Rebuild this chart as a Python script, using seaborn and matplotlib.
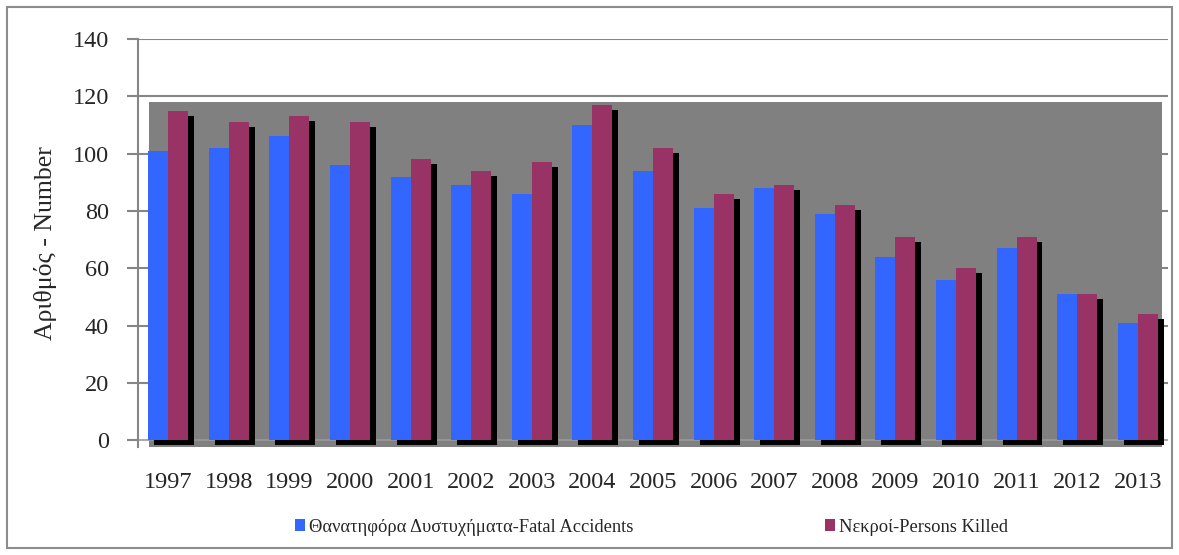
import matplotlib
matplotlib.use("Agg")
import matplotlib.pyplot as plt
import matplotlib.patheffects as pe
from matplotlib.patches import Rectangle, Patch
import seaborn as sns
import pandas as pd
import numpy as np

years = ["1997", "1998", "1999", "2000", "2001", "2002", "2003", "2004", "2005",
         "2006", "2007", "2008", "2009", "2010", "2011", "2012", "2013"]
fatal_accidents = [101, 102, 106, 96, 92, 89, 86, 110, 94, 81, 88, 79, 64, 56, 67, 51, 41]
persons_killed = [115, 111, 113, 111, 98, 94, 97, 117, 102, 86, 89, 82, 71, 60, 71, 51, 44]
series_names = ["Θανατηφόρα Δυστυχήματα-Fatal Accidents", "Νεκροί-Persons Killed"]
colors = ["#3366FF", "#993366"]
y_ticks = [0, 20, 40, 60, 80, 100, 120, 140]

df = pd.DataFrame({
    "year": years * 2,
    "value": fatal_accidents + persons_killed,
    "series": [series_names[0]] * len(years) + [series_names[1]] * len(years),
})

sns.set_style("white")
plt.rcParams["font.family"] = ["Liberation Serif", "DejaVu Serif"]

fig = plt.figure(figsize=(11.79, 5.55), dpi=100)
ax = fig.add_axes([138 / 1179, 1 - 447 / 555, (1168 - 138) / 1179, (447 - 39) / 555])

# outer frame
fig.patches.append(Rectangle((7 / 1179, 7 / 555), (1172 - 7) / 1179, (548 - 7) / 555,
                             transform=fig.transFigure, fill=False,
                             edgecolor="#8c8c8c", linewidth=1.5))

ymin = -2.4
ax.set_ylim(ymin, 140)
ax.set_xlim(-0.5, len(years) - 0.5)

# gridlines (behind the wall)
for t in y_ticks[1:]:
    ax.axhline(t, color="#868686", linewidth=1.5, zorder=0)

# back wall
wall_top = 118
wall = Rectangle((-0.32, ymin), len(years) - 0.5 + 0.32 - 0.1, wall_top - ymin,
                 facecolor="#808080", edgecolor="none", zorder=0.5)
ax.add_patch(wall)

sns.barplot(data=df, x="year", y="value", hue="series", palette=colors,
            width=0.66, gap=0, dodge=True, ax=ax, legend=False, errorbar=None,
            saturation=1, zorder=2)

shadow = [pe.SimplePatchShadow(offset=(4.3, -3.6), shadow_rgbFace="black", alpha=1.0),
          pe.Normal()]
for p in ax.patches:
    if p is not wall:
        p.set_path_effects(shadow)
        p.set_edgecolor("none")

# zero line
ax.axhline(0, color="#9a9a9a", linewidth=1.2, zorder=1)

for s in ["top", "right", "bottom"]:
    ax.spines[s].set_visible(False)
ax.spines["left"].set_color("#868686")
ax.spines["left"].set_linewidth(1.5)

ax.set_yticks(y_ticks)
ax.set_yticklabels([str(t) for t in y_ticks])
ax.tick_params(axis="y", length=8, width=1.5, color="#868686", pad=13, labelsize=17.5, left=True)
ax.tick_params(axis="x", length=0, pad=18, labelsize=17.5)
ax.set_xlabel("")
ax.set_ylabel("Αριθμός - Number", fontsize=18.5)
ax.yaxis.set_label_coords(-(138 - 57) / (1168 - 138), 0.5)

handles = [Patch(facecolor=c, edgecolor="none") for c in colors]
fig.legend(handles, series_names, loc="center", bbox_to_anchor=(0.5526, 1 - 527 / 555),
           ncol=2, frameon=False, fontsize=13.3, handlelength=0.55, handleheight=0.55,
           handletextpad=0.2, columnspacing=10.4)

fig.savefig("out.png", dpi=100)
